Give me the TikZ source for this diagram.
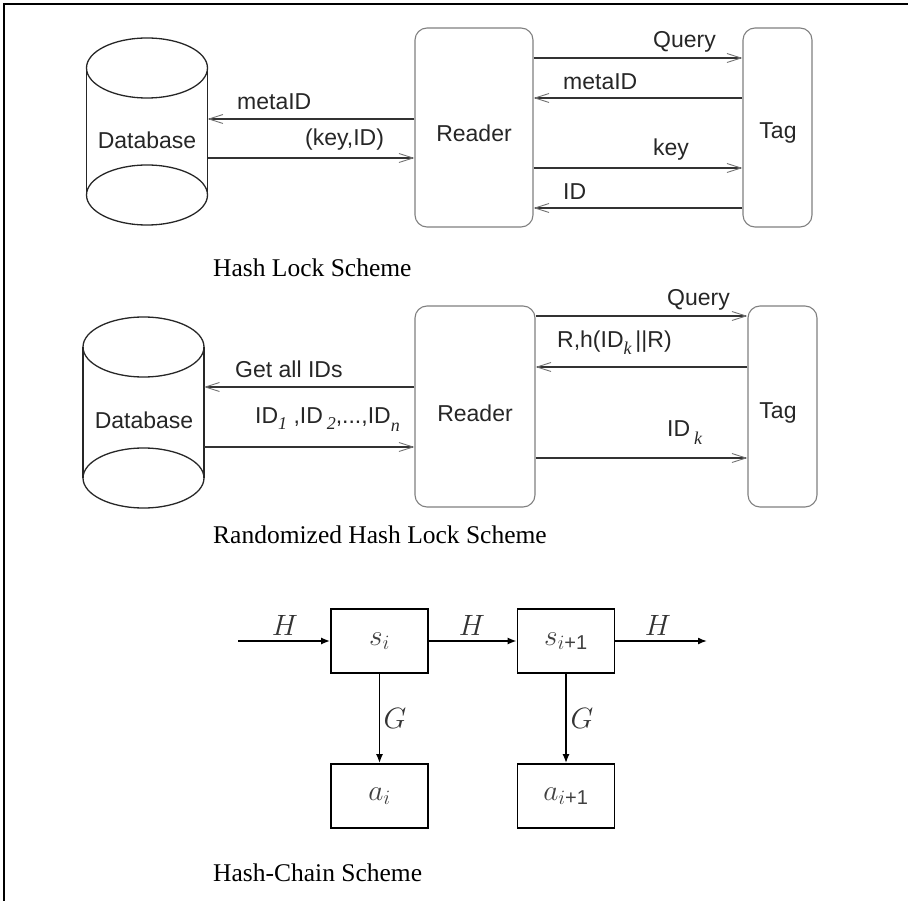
\documentclass[tikz,border=0pt]{standalone}
\usepackage{graphicx}
\usepackage{fontspec}
\setmainfont{Liberation Serif}
\setsansfont{Liberation Sans}
\newfontfamily\tnr{Liberation Serif}
\usetikzlibrary{arrows.meta}
\newcommand{\hcbigmath}[1]{\scalebox{1.18}{\fontsize{24}{28}\selectfont #1}}
\newcommand{\hcsub}[1]{{\tnr\itshape\fontsize{18}{18}\selectfont #1}}
\begin{document}
\begin{tikzpicture}[x=1pt,y=-1pt,
  sbox/.style={draw=black!50, line width=1.1pt, rounded corners=12pt, inner sep=0pt},
  ghost/.style={inner sep=0pt, outer sep=0pt},
  cyl/.style={draw=black!85, line width=1.3pt},
  lbl/.style={font=\sffamily\fontsize{23}{27}\selectfont, text=black!85, inner sep=0pt, anchor=west},
  ctr/.style={font=\sffamily\fontsize{23}{27}\selectfont, text=black!85, inner sep=0pt},
  captxt/.style={font=\fontsize{25.5}{30}\selectfont, anchor=west, inner sep=0pt},
  msg/.style={line width=1.2pt, draw=black!80, -{Straight Barb[length=14pt,width=9pt,line width=0.9pt,color=black!55]}},
  hbox/.style={draw, line width=1.8pt, minimum width=97pt, minimum height=64pt, inner sep=0pt, text=black!75},
  harr/.style={line width=1.5pt, -{Latex[length=9pt,width=7pt]}},
  mlbl/.style={inner sep=0pt, text=black!80}
]
\useasboundingbox (0,0) rectangle (908,901);
% frame
\draw[line width=2pt] (4,901) -- (4,4) -- (908,4);

% ---------- Hash Lock Scheme ----------
\node[ghost, minimum width=121pt, minimum height=127pt] (db1) at (147,131.5) {};
\draw[cyl] (db1.north west) -- (db1.south west) (db1.north east) -- (db1.south east);
\draw[cyl] (db1.north) ellipse [x radius=60.5pt, y radius=30pt];
\draw[cyl] (db1.south) ellipse [x radius=60.5pt, y radius=30pt];
\node[ctr] (db1t) at (147,140) {Database};

\node[sbox, minimum width=118pt, minimum height=199pt] (r1) at (474,127.5) {};
\node[ctr] (r1t) at (474,133) {Reader};
\node[sbox, minimum width=69pt, minimum height=199pt] (t1) at (777.5,127.5) {};
\node[ctr] (t1t) at (778,133) {Tag};

\draw[msg] (r1.west |- 0,119) -- (db1.east |- 0,119);
\draw[msg] (db1.east |- 0,158) -- (r1.west |- 0,158);
\draw[msg] (r1.east |- 0,58) -- (t1.west |- 0,58);
\draw[msg] (t1.west |- 0,98) -- (r1.east |- 0,98);
\draw[msg] (r1.east |- 0,168) -- (t1.west |- 0,168);
\draw[msg] (t1.west |- 0,208) -- (r1.east |- 0,208);

\node[lbl] (l1) at (237,102) {metaID};
\node[lbl] (l2) at (305,140) {(key,ID)};
\node[lbl] (l3) at (653,42) {Query};
\node[lbl] (l4) at (563,82) {metaID};
\node[lbl] (l5) at (653,150) {key};
\node[lbl] (l6) at (563,192) {ID};

\node[captxt] (c1) at (213,268) {Hash Lock Scheme};

% ---------- Randomized Hash Lock Scheme ----------
\node[ghost, minimum width=121pt, minimum height=131pt] (db2) at (143.5,412.5) {};
\draw[cyl] (db2.north west) -- (db2.south west) (db2.north east) -- (db2.south east);
\draw[cyl] (db2.north) ellipse [x radius=60.5pt, y radius=30pt];
\draw[cyl] (db2.south) ellipse [x radius=60.5pt, y radius=30pt];
\node[ctr] (db2t) at (144,420) {Database};

\node[sbox, minimum width=120pt, minimum height=201pt] (r2) at (475,406.5) {};
\node[ctr] (r2t) at (475,413) {Reader};
\node[sbox, minimum width=69pt, minimum height=201pt] (t2) at (782.5,406.5) {};
\node[ctr] (t2t) at (778,413) {Tag};

\draw[msg] (r2.west |- 0,387) -- (db2.east |- 0,387);
\draw[msg] (db2.east |- 0,447) -- (r2.west |- 0,447);
\draw[msg] (r2.east |- 0,316) -- (t2.west |- 0,316);
\draw[msg] (t2.west |- 0,367) -- (r2.east |- 0,367);
\draw[msg] (r2.east |- 0,458) -- (t2.west |- 0,458);

\node[lbl] (m1) at (235,369) {Get all IDs};
\node[lbl] (m2) at (255,420) {ID\raisebox{-6pt}{\hcsub{1}}\ ,ID\,\raisebox{-6pt}{\hcsub{2}},...,ID\raisebox{-8pt}{\hcsub{n}}};
\node[lbl] (m3) at (667,300) {Query};
\node[lbl] (m4) at (557,343) {R,h(ID\raisebox{-7pt}{\hcsub{k}}\,||R)};
\node[lbl] (m5) at (667,433) {ID\,\raisebox{-8pt}{\hcsub{k}}};

\node[captxt] (c2) at (213,535) {Randomized Hash Lock Scheme};

% ---------- Hash-Chain Scheme ----------
\node[hbox] (s1) at (379.5,641) {\hcbigmath{$s_i$}};
\node[hbox] (s2) at (566,641) {\hcbigmath{$s_{i\hbox{\sffamily\fontsize{17}{17}\selectfont +1}}$}};
\node[hbox] (a1) at (379.5,796) {\hcbigmath{$a_i$}};
\node[hbox] (a2) at (566,796) {\hcbigmath{$a_{i\hbox{\sffamily\fontsize{17}{17}\selectfont +1}}$}};
\coordinate (in) at (238,641);
\coordinate (out) at (707,641);
\draw[harr] (in) -- (s1);
\draw[harr] (s1) -- (s2);
\draw[harr] (s2) -- (out);
\draw[harr] (s1) -- (a1);
\draw[harr] (s2) -- (a2);
\node[mlbl] (h1) at (285,625) {\hcbigmath{$H$}};
\node[mlbl] (h2) at (472,625) {\hcbigmath{$H$}};
\node[mlbl] (h3) at (658,625) {\hcbigmath{$H$}};
\node[mlbl] (g1) at (395,718) {\hcbigmath{$G$}};
\node[mlbl] (g2) at (582,718) {\hcbigmath{$G$}};

\node[captxt] (c3) at (213,873) {Hash-Chain Scheme};
\end{tikzpicture}
\end{document}
